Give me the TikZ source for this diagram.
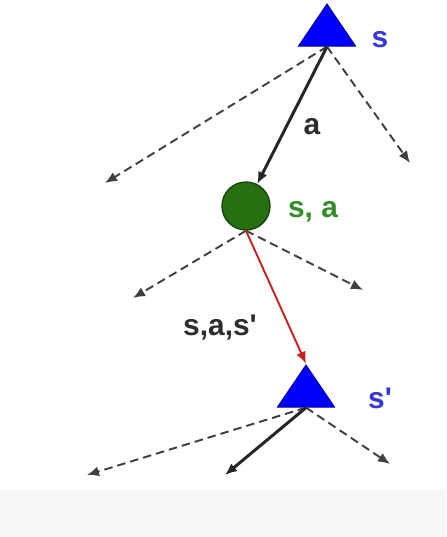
\documentclass[tikz,border=0pt]{standalone}
\usepackage{fontspec}
\setmainfont{Liberation Sans}
\usetikzlibrary{arrows.meta,shapes.geometric}
\definecolor{stateblue}{RGB}{0,0,250}
\definecolor{labelblue}{RGB}{55,55,215}
\definecolor{qgreen}{RGB}{38,112,18}
\definecolor{qdark}{RGB}{25,70,12}
\definecolor{labelgreen}{RGB}{50,140,40}
\definecolor{transred}{RGB}{200,35,35}
\definecolor{labelgray}{RGB}{45,45,45}
\definecolor{band}{RGB}{246,246,246}

\begin{document}
\begin{tikzpicture}[x=0.02cm,y=-0.02cm,font=\fontsize{17}{19}\selectfont\bfseries,
  statenode/.style={isosceles triangle,shape border rotate=90,
    isosceles triangle stretches,inner sep=0pt,
    minimum width=1.14cm,minimum height=0.84cm,
    fill=stateblue,draw=stateblue!70!black,line width=0.6pt},
  qnode/.style={circle,inner sep=0pt,minimum size=0.96cm,
    fill=qgreen,draw=qdark,line width=0.8pt},
  tip/.style={-{Latex[length=0.24cm,width=0.2cm]}},
  other/.style={tip,dashed,dash pattern=on 0.17cm off 0.1cm,
    line width=1.1pt,black!75},
  chosen/.style={tip,line width=1.7pt,black!85}]
\useasboundingbox (0,0) rectangle (446,537);
\fill[white] (0,0) rectangle (446,537);
\fill[band] (0,490) rectangle (446,537);

% states and q-state
\node[statenode] (s) at (327,31) {};
\node[qnode] (sa) at (246,206) {};
\node[statenode] (s2) at (306,392) {};

% labels
\node[labelblue] (slab) at (380,40) {s};
\node[labelgray] (alab) at (312,127) {a};
\node[labelgreen] (salab) at (313,212) {s, a};
\node[labelgray] (tlab) at (220,328) {s,a,s\textquotesingle};
\node[labelblue] (s2lab) at (380,398) {s\textquotesingle};

% free ends
\coordinate (e1) at (105,183);
\coordinate (e2) at (410,163);
\coordinate (e3) at (133,298);
\coordinate (e4) at (363,290);
\coordinate (e5) at (87,475);
\coordinate (e6) at (390,464);
\coordinate (e7) at (225,475);

% top level
\draw[other] (s.south) -- (e1);
\draw[other] (s.south) -- (e2);
\draw[chosen] (s.south) -- (sa);

% chance level
\draw[other] (sa.south) -- (e3);
\draw[other] (sa.south) -- (e4);
\draw[tip,transred,line width=1.1pt] (sa.south) -- (s2.apex);

% next state
\draw[other] (s2.south) -- (e5);
\draw[other] (s2.south) -- (e6);
\draw[chosen] (s2.south) -- (e7);
\end{tikzpicture}
\end{document}
